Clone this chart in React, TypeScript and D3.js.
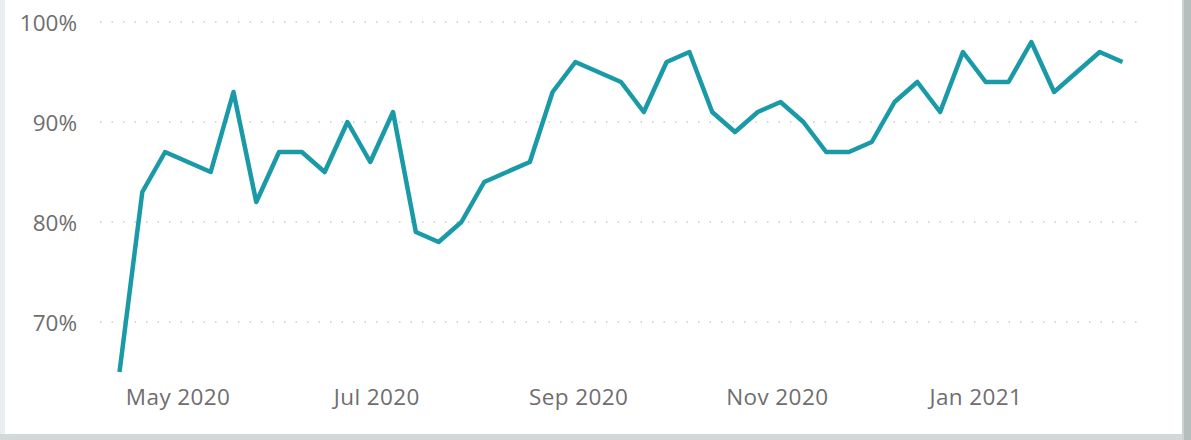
import React from "react";
import * as d3 from "d3";

const weekDates: string[] = [
  "2020-04-13", "2020-04-20", "2020-04-27", "2020-05-04", "2020-05-11", "2020-05-18", "2020-05-25",
  "2020-06-01", "2020-06-08", "2020-06-15", "2020-06-22", "2020-06-29", "2020-07-06", "2020-07-13",
  "2020-07-20", "2020-07-27", "2020-08-03", "2020-08-10", "2020-08-17", "2020-08-24", "2020-08-31",
  "2020-09-07", "2020-09-14", "2020-09-21", "2020-09-28", "2020-10-05", "2020-10-12", "2020-10-19",
  "2020-10-26", "2020-11-02", "2020-11-09", "2020-11-16", "2020-11-23", "2020-11-30", "2020-12-07",
  "2020-12-14", "2020-12-21", "2020-12-28", "2021-01-04", "2021-01-11", "2021-01-18", "2021-01-25",
  "2021-02-01", "2021-02-08", "2021-02-15",
];

const pctValues: number[] = [
  65, 83, 87, 86, 85, 93, 82, 87, 87, 85,
  90, 86, 91, 79, 78, 80, 84, 85, 86, 93,
  96, 95, 94, 91, 96, 97, 91, 89, 91, 92,
  90, 87, 87, 88, 92, 94, 91, 97, 94, 94,
  98, 93, 95, 97, 96,
];

const xTickDates: string[] = ["2020-05-01", "2020-07-01", "2020-09-01", "2020-11-01", "2021-01-01"];
const xTickLabels: string[] = ["May 2020", "Jul 2020", "Sep 2020", "Nov 2020", "Jan 2021"];
const yTicks: number[] = [70, 80, 90, 100];

const W = 1191;
const H = 440;
const FONT = "'Open Sans', 'Noto Sans', sans-serif";

export default function App() {
  const parse = d3.utcParse("%Y-%m-%d");
  const dates = weekDates.map((s) => parse(s) as Date);
  const x = d3
    .scaleUtc()
    .domain([dates[0], dates[dates.length - 1]])
    .range([119.5, 1122.5]);
  const y = d3.scaleLinear().domain([65, 100]).range([372, 22]);

  const data = dates.map((d, i) => ({ d, v: pctValues[i] }));
  const line = d3
    .line<{ d: Date; v: number }>()
    .x((p) => x(p.d))
    .y((p) => y(p.v));

  return (
    <svg
      width={W}
      height={H}
      style={{ position: "absolute", left: 0, top: 0, background: "#ffffff" }}
    >
      <rect x={0} y={0} width={W} height={H} fill="#ffffff" />
      {/* frame edges */}
      <rect x={0} y={0} width={5} height={H} fill="#e9eef0" />
      <rect x={0} y={434} width={W} height={6} fill="#d3d9d9" />
      <rect x={1182} y={0} width={9} height={H} fill="#b6bdbd" />
      <rect x={1182} y={0} width={2} height={H} fill="#cdd3d3" />

      {/* gridlines */}
      {yTicks.map((t) => (
        <line
          key={"g" + t}
          x1={100}
          x2={1146}
          y1={y(t)}
          y2={y(t)}
          stroke="#cccccc"
          strokeWidth={1.5}
          strokeDasharray="1.5,10"
        />
      ))}

      {/* y labels */}
      {yTicks.map((t) => (
        <text
          key={"yl" + t}
          x={77}
          y={y(t) + 8.5}
          textAnchor="end"
          fontFamily={FONT}
          fontSize={22.5}
          fill="#6e6e6e"
        >
          {t + "%"}
        </text>
      ))}

      {/* x labels */}
      {xTickDates.map((s, i) => (
        <text
          key={"xl" + s}
          x={x(parse(s) as Date)}
          y={405}
          textAnchor="middle"
          fontFamily={FONT}
          fontSize={22.5}
          letterSpacing={0.4}
          fill="#6e6e6e"
        >
          {xTickLabels[i]}
        </text>
      ))}

      {/* line */}
      <path
        d={line(data) ?? ""}
        fill="none"
        stroke="#1a9aa7"
        strokeWidth={4.5}
        strokeLinejoin="round"
        strokeLinecap="butt"
      />
    </svg>
  );
}
